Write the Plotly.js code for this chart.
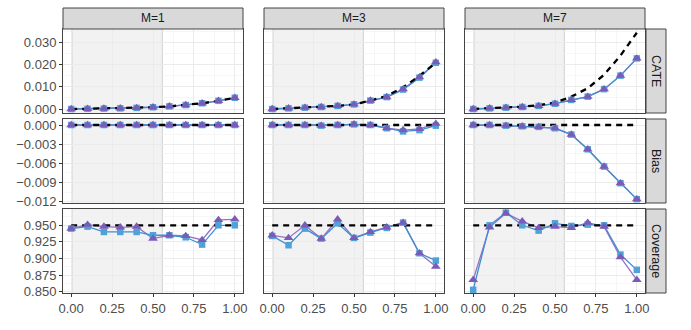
<!DOCTYPE html>
<html>
<head>
<meta charset="utf-8">
<script src="https://cdn.plot.ly/plotly-3.0.1.min.js"></script>
<style>
  html, body { margin: 0; padding: 0; background: #fff; }
  #chart { width: 691px; height: 330px; }
</style>
</head>
<body>
<div id="chart"></div>
<script>
// facet grid: rows = CATE / Bias / Coverage, cols = M=1 / M=3 / M=7
const xVals = [0, 0.1, 0.2, 0.3, 0.4, 0.5, 0.6, 0.7, 0.8, 0.9, 1.0];
const colLabels = ["M=1", "M=3", "M=7"];
const rowLabels = ["CATE", "Bias", "Coverage"];

// CATE
const cateTrueM1 = [0, 0.0001, 0.0002, 0.0003, 0.0005, 0.0008, 0.0012, 0.0018, 0.0026, 0.0037, 0.0051];
const cateTrueM3 = [0, 0.0003, 0.0006, 0.0009, 0.0014, 0.0021, 0.0038, 0.0059, 0.0098, 0.0150, 0.0210];
const cateTrueM7 = [0, 0.0003, 0.0007, 0.0011, 0.0017, 0.0029, 0.0056, 0.0094, 0.0155, 0.0242, 0.0345];
const cateSqM1 = [0, 0.0001, 0.0002, 0.0003, 0.0005, 0.0008, 0.0012, 0.0018, 0.0026, 0.0037, 0.0051];
const cateTriM1 = [0, 0.0001, 0.0002, 0.0003, 0.0005, 0.0008, 0.0012, 0.0018, 0.0026, 0.0037, 0.0051];
const cateSqM3 = [0, 0.0003, 0.0006, 0.0009, 0.0014, 0.0021, 0.0038, 0.0054, 0.0088, 0.0142, 0.0209];
const cateTriM3 = [0, 0.0003, 0.0006, 0.0009, 0.0014, 0.0021, 0.0038, 0.0054, 0.0090, 0.0144, 0.0212];
const cateSqM7 = [0, 0.0003, 0.0006, 0.0009, 0.0014, 0.0024, 0.0041, 0.0056, 0.0090, 0.0151, 0.0229];
const cateTriM7 = [0, 0.0003, 0.0006, 0.0009, 0.0014, 0.0024, 0.0041, 0.0056, 0.0090, 0.0151, 0.0229];

// Bias
const biasTrue = [0, 0, 0, 0, 0, 0, 0, 0, 0, 0, 0];
const biasSqM1 = [0, 0, 0, 0, 0, 0, 0, 0, 0, 0, 0];
const biasTriM1 = [0, 0, 0, 0, 0, 0, 0, 0, 0, 0, 0];
const biasSqM3 = [0, 0, 0, -0.0001, 0, 0.0001, 0, -0.0005, -0.0010, -0.0008, -0.0001];
const biasTriM3 = [0, 0, 0, -0.0001, 0, 0.0001, 0, -0.0005, -0.0008, -0.0006, 0.0002];
const biasSqM7 = [0, 0, -0.0001, -0.0002, -0.0003, -0.0005, -0.0015, -0.0038, -0.0065, -0.0091, -0.0116];
const biasTriM7 = [0, 0, -0.0001, -0.0002, -0.0003, -0.0005, -0.0015, -0.0038, -0.0065, -0.0091, -0.0116];

// Coverage
const covNominal = [0.95, 0.95, 0.95, 0.95, 0.95, 0.95, 0.95, 0.95, 0.95, 0.95, 0.95];
const covSqM1 = [0.945, 0.948, 0.940, 0.940, 0.940, 0.935, 0.935, 0.932, 0.921, 0.950, 0.950];
const covTriM1 = [0.945, 0.951, 0.948, 0.947, 0.948, 0.930, 0.935, 0.934, 0.928, 0.958, 0.959];
const covSqM3 = [0.934, 0.920, 0.945, 0.930, 0.953, 0.931, 0.939, 0.946, 0.954, 0.908, 0.897];
const covTriM3 = [0.935, 0.931, 0.950, 0.930, 0.959, 0.931, 0.940, 0.947, 0.954, 0.908, 0.888];
const covSqM7 = [0.853, 0.950, 0.969, 0.950, 0.942, 0.953, 0.949, 0.951, 0.950, 0.906, 0.883];
const covTriM7 = [0.868, 0.947, 0.968, 0.956, 0.946, 0.948, 0.946, 0.954, 0.948, 0.902, 0.868];

const truthByRow = [[cateTrueM1, cateTrueM3, cateTrueM7], [biasTrue, biasTrue, biasTrue], [covNominal, covNominal, covNominal]];
const sqByRow = [[cateSqM1, cateSqM3, cateSqM7], [biasSqM1, biasSqM3, biasSqM7], [covSqM1, covSqM3, covSqM7]];
const triByRow = [[cateTriM1, cateTriM3, cateTriM7], [biasTriM1, biasTriM3, biasTriM7], [covTriM1, covTriM3, covTriM7]];

// pixel layout of the panels
const W = 691, H = 330;
const colPx = [[63, 243], [264, 444], [465, 645]];
const rowPx = [[29, 113], [119, 203], [209, 293]];
const px = v => v / W;
const py = v => 1 - v / H;

const rowAxes = [
  { range: [-0.0018, 0.0362], tick0: 0, dtick: 0.01, minor: 0.005 },
  { range: [-0.0122, 0.00094], tick0: 0, dtick: 0.003, minor: 0.0015 },
  { range: [0.8482, 0.9745], tick0: 0.85, dtick: 0.025, minor: 0.0125 }
];

const sqColor = "#4EA2D9";
const sqLine = "#3F8ED0";
const triColor = "#7B5BB8";
const triLine = "#9672C6";
const fontFam = "Liberation Sans, Arial, sans-serif";

const traces = [];
const layout = {
  width: W, height: H,
  margin: { l: 0, r: 0, t: 0, b: 0 },
  paper_bgcolor: "#fff",
  plot_bgcolor: "#fff",
  showlegend: false,
  font: { family: fontFam, size: 13, color: "#4D4D4D" },
  shapes: [],
  annotations: []
};

for (let r = 0; r < 3; r++) {
  for (let c = 0; c < 3; c++) {
    const k = r * 3 + c + 1;
    const sfx = k === 1 ? "" : String(k);
    const xa = "x" + sfx, ya = "y" + sfx;

    layout["xaxis" + sfx] = {
      domain: [px(colPx[c][0]), px(colPx[c][1])],
      anchor: ya,
      range: [-0.05, 1.05],
      tick0: 0, dtick: 0.25, tickformat: ".2f",
      showticklabels: r === 2,
      ticks: r === 2 ? "outside" : "",
      ticklen: 3, tickcolor: "#333", tickwidth: 1,
      showgrid: true, gridcolor: "#EBEBEB", gridwidth: 1,
      minor: { tick0: 0, dtick: 0.125, showgrid: true, gridcolor: "#F0F0F0", gridwidth: 0.6 },
      zeroline: false,
      showline: true, mirror: true, linecolor: "#444", linewidth: 1,
      tickfont: { size: 13, color: "#4D4D4D" }
    };
    const ra = rowAxes[r];
    layout["yaxis" + sfx] = {
      domain: [py(rowPx[r][1]), py(rowPx[r][0])],
      anchor: xa,
      range: ra.range,
      tick0: ra.tick0, dtick: ra.dtick, tickformat: ".3f",
      showticklabels: c === 0,
      ticks: c === 0 ? "outside" : "",
      ticklen: 3, tickcolor: "#333", tickwidth: 1,
      showgrid: true, gridcolor: "#EBEBEB", gridwidth: 1,
      minor: { tick0: ra.tick0, dtick: ra.minor, showgrid: true, gridcolor: "#F0F0F0", gridwidth: 0.6 },
      zeroline: false,
      showline: true, mirror: true, linecolor: "#444", linewidth: 1,
      tickfont: { size: 13, color: "#4D4D4D" }
    };

    // shaded window
    layout.shapes.push({
      type: "rect", xref: xa, yref: ya + " domain", layer: "below",
      x0: 0.005, x1: 0.557, y0: 0, y1: 1,
      fillcolor: "#F2F2F2", line: { width: 0 }
    });
    [0.005, 0.557].forEach(v => layout.shapes.push({
      type: "line", xref: xa, yref: ya + " domain", layer: "below",
      x0: v, x1: v, y0: 0, y1: 1,
      line: { color: "#D0D0D0", width: 1 }
    }));

    const sq = sqByRow[r][c], tri = triByRow[r][c];
    // purple line first so the blue one shows where they overlap
    traces.push({ x: xVals, y: tri, xaxis: xa, yaxis: ya, type: "scatter", mode: "lines",
      line: { color: triLine, width: 1.3 }, hoverinfo: "skip" });
    traces.push({ x: xVals, y: sq, xaxis: xa, yaxis: ya, type: "scatter", mode: "lines",
      line: { color: sqLine, width: 1.3 }, hoverinfo: "skip" });
    traces.push({ x: xVals, y: truthByRow[r][c], xaxis: xa, yaxis: ya, type: "scatter", mode: "lines",
      line: { color: "#000", width: 2.3, dash: "6px,5px" }, hoverinfo: "skip" });
    traces.push({ x: xVals, y: sq, xaxis: xa, yaxis: ya, type: "scatter", mode: "markers",
      marker: { symbol: "square", size: 6.5, color: sqColor }, hoverinfo: "skip" });
    traces.push({ x: xVals, y: tri, xaxis: xa, yaxis: ya, type: "scatter", mode: "markers",
      marker: { symbol: "triangle-up", size: 8.5, color: triColor }, hoverinfo: "skip" });
  }
}

// strips on top
colPx.forEach((cp, c) => {
  layout.shapes.push({
    type: "rect", xref: "paper", yref: "paper", layer: "above",
    x0: px(cp[0]), x1: px(cp[1]), y0: py(29), y1: py(8),
    fillcolor: "#D9D9D9", line: { color: "#444", width: 1 }
  });
  layout.annotations.push({
    xref: "paper", yref: "paper", x: px((cp[0] + cp[1]) / 2), y: py(18.5),
    text: colLabels[c], showarrow: false, xanchor: "center", yanchor: "middle",
    font: { size: 12, color: "#1A1A1A" }
  });
});
// strips on the right
rowPx.forEach((rp, r) => {
  layout.shapes.push({
    type: "rect", xref: "paper", yref: "paper", layer: "above",
    x0: px(646), x1: px(666), y0: py(rp[1]), y1: py(rp[0]),
    fillcolor: "#D9D9D9", line: { color: "#444", width: 1 }
  });
  layout.annotations.push({
    xref: "paper", yref: "paper", x: px(656), y: py((rp[0] + rp[1]) / 2),
    text: rowLabels[r], showarrow: false, textangle: 90, xanchor: "center", yanchor: "middle",
    font: { size: 12.5, color: "#1A1A1A" }
  });
});

Plotly.newPlot("chart", traces, layout, { displayModeBar: false, staticPlot: true });
</script>
</body>
</html>
